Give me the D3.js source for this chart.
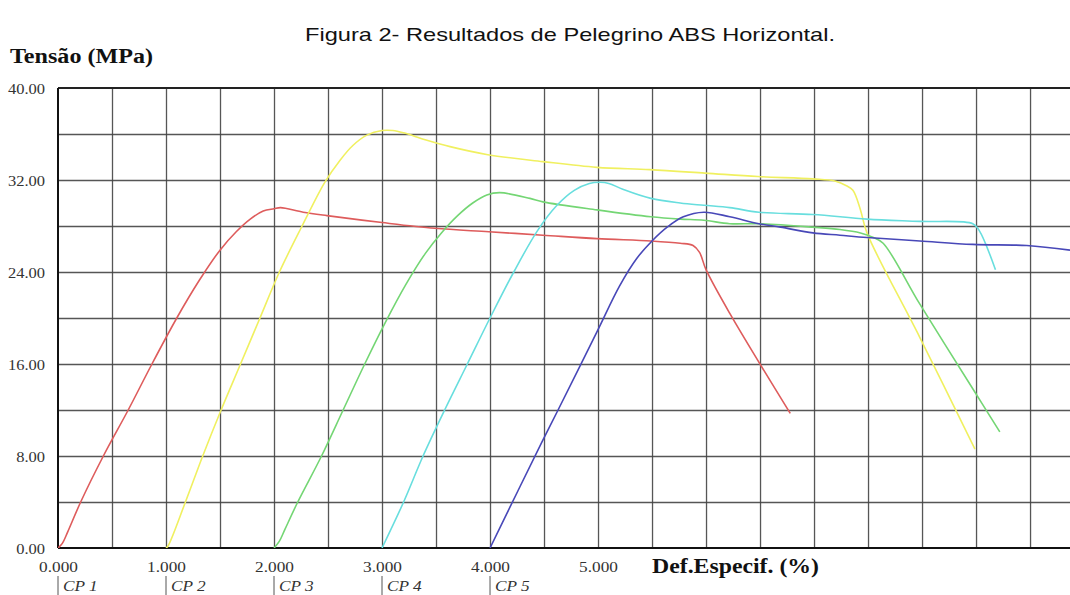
<!DOCTYPE html>
<html><head><meta charset="utf-8">
<script src="https://cdn.jsdelivr.net/npm/d3@7"></script>
<style>body{margin:0;background:#fff} svg{display:block}</style>
</head><body><svg id="c" width="1070" height="595"></svg>
<script>
// ---- data ----
const seriesNames = ["CP 1","CP 2","CP 3","CP 4","CP 5"];
const seriesStart = [0, 1, 2, 3, 4];

const cp1X = [0, 0.04, 0.09, 0.21, 0.42, 0.65, 0.87, 1.1, 1.31, 1.5, 1.65, 1.78, 1.9, 2.0, 2.06, 2.27, 2.49, 3.0, 3.49, 3.99, 4.49, 4.99, 5.49, 5.76, 5.88, 5.94, 6.0, 6.22, 6.78];
const cp1Y = [0, 0.4, 1.4, 4.0, 8.0, 12.0, 16.0, 20.0, 23.3, 25.9, 27.5, 28.6, 29.3, 29.5, 29.6, 29.2, 28.9, 28.3, 27.8, 27.5, 27.2, 26.9, 26.7, 26.5, 26.3, 25.7, 24.2, 20.4, 11.7];

const cp2X = [1.0, 1.02, 1.18, 1.34, 1.51, 1.69, 1.87, 2.05, 2.26, 2.47, 2.61, 2.73, 2.86, 3.0, 3.1, 3.2, 3.4, 3.63, 3.98, 4.49, 4.99, 5.48, 5.99, 6.48, 6.99, 7.2, 7.3, 7.36, 7.43, 7.49, 7.98, 8.49];
const cp2Y = [0, 0.2, 4, 8, 12, 16, 20, 24, 28.0, 31.8, 33.7, 35.0, 35.9, 36.3, 36.3, 36.1, 35.5, 34.9, 34.2, 33.6, 33.1, 32.9, 32.6, 32.3, 32.1, 31.9, 31.5, 31.1, 29.4, 27.4, 18.3, 8.6];

const cp3X = [2.0, 2.05, 2.1, 2.22, 2.44, 2.64, 2.84, 3.03, 3.22, 3.4, 3.55, 3.7, 3.84, 3.97, 4.09, 4.37, 4.49, 4.99, 5.49, 5.76, 5.98, 6.22, 6.49, 6.99, 7.24, 7.43, 7.55, 7.64, 7.98, 8.48, 8.72];
const cp3Y = [0, 0.6, 1.6, 4.0, 8.0, 12, 16, 19.6, 22.9, 25.6, 27.4, 28.9, 30.0, 30.7, 30.9, 30.4, 30.1, 29.4, 28.8, 28.6, 28.5, 28.2, 28.2, 27.9, 27.7, 27.4, 27.0, 26.5, 21.2, 13.7, 10.1];

const cp4X = [3.0, 3.2, 3.38, 3.58, 3.79, 4.0, 4.22, 4.44, 4.62, 4.78, 4.92, 5.02, 5.1, 5.23, 5.49, 5.76, 5.98, 6.22, 6.49, 6.99, 7.49, 7.98, 8.47, 8.53, 8.68];
const cp4Y = [0, 4, 8, 12, 16, 20, 24.0, 27.6, 29.8, 31.1, 31.7, 31.8, 31.7, 31.2, 30.4, 30.0, 29.8, 29.6, 29.2, 29.0, 28.6, 28.4, 28.2, 27.6, 24.2];

const cp5X = [4.0, 4.26, 4.48, 4.63, 4.99, 5.2, 5.36, 5.5, 5.64, 5.79, 5.98, 6.22, 6.49, 6.69, 6.99, 7.24, 7.49, 7.98, 8.47, 8.97, 9.37];
const cp5Y = [0, 5.0, 9.2, 12, 18.8, 22.8, 25.2, 26.7, 27.9, 28.8, 29.2, 28.8, 28.2, 27.9, 27.4, 27.2, 27.0, 26.7, 26.4, 26.3, 25.9];

const xTickValues = [0, 1, 2, 3, 4, 5];
const xTickLabels = ["0.000", "1.000", "2.000", "3.000", "4.000", "5.000"];
const yTickValues = [0, 8, 16, 24, 32, 40];
const yTickLabels = ["0.00", "8.00", "16.00", "24.00", "32.00", "40.00"];

const titleText = "Figura 2- Resultados de Pelegrino ABS Horizontal.";
const yAxisTitle = "Tensão (MPa)";
const xAxisTitle = "Def.Especif. (%)";

// ---- style ----
const colors = ["#de5c5c", "#f0f060", "#74d674", "#68dede", "#4848b8"];
const serif = "'Liberation Serif', 'Times New Roman', serif";
const sans = "'Liberation Sans', Arial, sans-serif";

const svg = d3.select("#c");
const x = d3.scaleLinear().domain([0, 9.37]).range([58, 1070]);
const y = d3.scaleLinear().domain([0, 40]).range([548, 88]);

function stretch(sel, k) {
  sel.each(function () {
    const w = this.getComputedTextLength();
    d3.select(this).attr("textLength", w * k).attr("lengthAdjust", "spacingAndGlyphs");
  });
}
function fitWidth(sel, w) {
  sel.attr("textLength", w).attr("lengthAdjust", "spacingAndGlyphs");
}

// grid
const gx = svg.append("g").attr("transform", `translate(0,${y(0)})`)
  .call(d3.axisBottom(x).tickValues(d3.range(0.5, 9.01, 0.5)).tickSize(-(y(0) - y(40))).tickFormat(""));
gx.select(".domain").remove();
gx.selectAll("line").attr("stroke", "#444").attr("stroke-width", 1.3).attr("stroke-opacity", 0.9);

const gy = svg.append("g").attr("transform", `translate(${x(0)},0)`)
  .call(d3.axisLeft(y).tickValues(d3.range(4, 39, 4)).tickSize(-(1070 - x(0))).tickFormat(""));
gy.select(".domain").remove();
gy.selectAll("line").attr("stroke", "#444").attr("stroke-width", 1.3).attr("stroke-opacity", 0.9);

// frame
svg.append("line").attr("x1", x(0)).attr("x2", 1070).attr("y1", y(40)).attr("y2", y(40)).attr("stroke", "#222").attr("stroke-width", 1.8);
svg.append("line").attr("x1", x(0)).attr("x2", 1070).attr("y1", y(0)).attr("y2", y(0)).attr("stroke", "#111").attr("stroke-width", 2);
svg.append("line").attr("x1", x(0)).attr("x2", x(0)).attr("y1", y(40)).attr("y2", y(0)).attr("stroke", "#111").attr("stroke-width", 2);

// curves
svg.append("clipPath").attr("id", "clip").append("rect")
  .attr("x", x(0)).attr("y", y(40)).attr("width", 1070 - x(0)).attr("height", y(0) - y(40));
const seriesX = [cp1X, cp2X, cp3X, cp4X, cp5X];
const seriesY = [cp1Y, cp2Y, cp3Y, cp4Y, cp5Y];
const line = d3.line().x(d => x(d[0])).y(d => y(d[1])).curve(d3.curveCatmullRom.alpha(0.5));
const gc = svg.append("g").attr("clip-path", "url(#clip)");
seriesNames.forEach((n, i) => {
  const pts = seriesX[i].map((v, j) => [v, seriesY[i][j]]);
  gc.append("path").datum(pts).attr("d", line).attr("fill", "none")
    .attr("stroke", colors[i]).attr("stroke-width", 1.6).attr("stroke-linejoin", "round");
});

// y axis labels
const ay = svg.append("g").attr("transform", `translate(${x(0)},0)`)
  .call(d3.axisLeft(y).tickValues(yTickValues).tickFormat((d, i) => yTickLabels[i]).tickSize(0).tickPadding(13));
ay.select(".domain").remove();
ay.selectAll("text").attr("font-family", serif).attr("font-size", 15).attr("fill", "#333").attr("dy", "0.35em");
stretch(ay.selectAll("text"), 1.1);

// x axis labels
const ax = svg.append("g").attr("transform", `translate(0,${y(0)})`)
  .call(d3.axisBottom(x).tickValues(xTickValues).tickFormat((d, i) => xTickLabels[i]).tickSize(0).tickPadding(13));
ax.select(".domain").remove();
ax.selectAll("text").attr("font-family", serif).attr("font-size", 15).attr("fill", "#333");
stretch(ax.selectAll("text"), 1.15);

// CP labels
const cpg = svg.append("g");
seriesNames.forEach((n, i) => {
  const px = x(seriesStart[i]);
  cpg.append("line").attr("x1", px).attr("x2", px).attr("y1", 576).attr("y2", 595).attr("stroke", "#555").attr("stroke-width", 1);
  cpg.append("text").attr("x", px + 5).attr("y", 591).text(n)
    .attr("font-family", serif).attr("font-style", "italic").attr("font-size", 15).attr("fill", "#333");
});
stretch(cpg.selectAll("text"), 1.15);

// titles
svg.append("text").attr("x", 305).attr("y", 41).text(titleText)
  .attr("font-family", sans).attr("font-size", 19).attr("fill", "#111").call(fitWidth, 530);
svg.append("text").attr("x", 10).attr("y", 63).text(yAxisTitle)
  .attr("font-family", serif).attr("font-weight", "bold").attr("font-size", 20).attr("fill", "#111").call(fitWidth, 143);
svg.append("text").attr("x", 652).attr("y", 573).text(xAxisTitle)
  .attr("font-family", serif).attr("font-weight", "bold").attr("font-size", 20).attr("fill", "#111").call(fitWidth, 167);
</script></body></html>
